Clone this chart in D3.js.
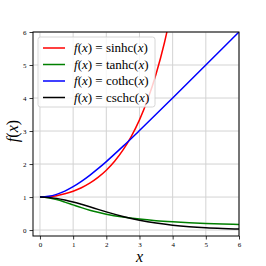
<!DOCTYPE html>
<html>
<head>
<script src="https://d3js.org/d3.v7.min.js"></script>
<style>
  body { margin: 0; background: #fff; }
  text { font-family: "Liberation Serif", "DejaVu Serif", serif; }
</style>
</head>
<body>
<svg width="266" height="266"></svg>
<script>
// values
var xs = [0, 0.25, 0.5, 0.75, 1, 1.25, 1.5, 1.75, 2, 2.5, 3, 3.5, 4, 4.5, 5, 5.5, 6];
var xsSinhc = [0, 0.25, 0.5, 0.75, 1, 1.25, 1.5, 1.75, 2, 2.25, 2.5, 2.75, 3, 3.25, 3.5, 3.75, 4];
var sinhc = [1, 1.01, 1.042, 1.097, 1.175, 1.282, 1.42, 1.595, 1.813, 2.085, 2.42, 2.833, 3.339, 3.962, 4.727, 5.666, 6.823];
var tanhc = [1, 0.98, 0.924, 0.847, 0.762, 0.679, 0.603, 0.538, 0.482, 0.395, 0.332, 0.285, 0.25, 0.222, 0.2, 0.182, 0.167];
var cothc = [1, 1.021, 1.082, 1.181, 1.313, 1.474, 1.657, 1.859, 2.075, 2.534, 3.015, 3.506, 4.003, 4.501, 5.0, 5.5, 6.0];
var cschc = [1, 0.99, 0.96, 0.912, 0.851, 0.78, 0.705, 0.627, 0.551, 0.413, 0.3, 0.212, 0.147, 0.1, 0.067, 0.045, 0.03];
var names = ["sinhc", "tanhc", "cothc", "cschc"];
var colors = ["#ff0000", "#008000", "#0000ff", "#000000"];
var xTicks = [0, 1, 2, 3, 4, 5, 6];
var yTicks = [0, 1, 2, 3, 4, 5, 6];

var svg = d3.select("svg"),
    margin = {top: 32, right: 27, bottom: 30, left: 33},
    width = 266 - margin.left - margin.right,
    height = 266 - margin.top - margin.bottom,
    g = svg.append("g").attr("transform", "translate(" + margin.left + "," + margin.top + ")");

var x = d3.scaleLinear().domain([-0.21, 6]).range([0, width]);
var y = d3.scaleLinear().domain([-0.18, 6]).range([height, 0]);

// grid
g.append("g").selectAll("line").data(xTicks).enter().append("line")
  .attr("x1", d => x(d)).attr("x2", d => x(d))
  .attr("y1", 0).attr("y2", height)
  .attr("stroke", "#d3d3d3").attr("stroke-width", 1);
g.append("g").selectAll("line").data(yTicks).enter().append("line")
  .attr("y1", d => y(d)).attr("y2", d => y(d))
  .attr("x1", 0).attr("x2", width)
  .attr("stroke", "#d3d3d3").attr("stroke-width", 1);

g.append("clipPath").attr("id", "clip")
  .append("rect").attr("width", width).attr("height", height);

var series = [
  {name: names[0], xv: xsSinhc, yv: sinhc},
  {name: names[1], xv: xs, yv: tanhc},
  {name: names[2], xv: xs, yv: cothc},
  {name: names[3], xv: xs, yv: cschc}
];

var line = d3.line()
  .x(d => x(d[0]))
  .y(d => y(d[1]))
  .curve(d3.curveMonotoneX);

series.forEach(function(s, i) {
  g.append("path")
    .attr("clip-path", "url(#clip)")
    .attr("fill", "none")
    .attr("stroke", colors[i])
    .attr("stroke-width", 1.5)
    .attr("d", line(d3.zip(s.xv, s.yv)));
});

// axes
var xAxis = g.append("g")
  .attr("transform", "translate(0," + height + ")")
  .call(d3.axisBottom(x).tickValues(xTicks).tickFormat(d3.format("d")).tickSize(3.5).tickPadding(3));
var yAxis = g.append("g")
  .call(d3.axisLeft(y).tickValues(yTicks).tickFormat(d3.format("d")).tickSize(3.5).tickPadding(3));
[xAxis, yAxis].forEach(function(a) {
  a.select(".domain").remove();
  a.selectAll("text").attr("font-family", "'DejaVu Serif', serif").attr("font-size", 7).attr("fill", "#000");
  a.selectAll("line").attr("stroke", "#000").attr("stroke-width", 0.8);
});

g.append("rect")
  .attr("width", width).attr("height", height)
  .attr("fill", "none").attr("stroke", "#000").attr("stroke-width", 1);

// legend
var lg = g.append("g").attr("transform", "translate(5,5)");
lg.append("rect")
  .attr("width", 117).attr("height", 70)
  .attr("rx", 2.5)
  .attr("fill", "#fff").attr("fill-opacity", 0.8)
  .attr("stroke", "#ccc").attr("stroke-width", 0.8);
names.forEach(function(n, i) {
  var row = lg.append("g").attr("transform", "translate(0," + (11 + i * 16.5) + ")");
  row.append("line")
    .attr("x1", 5).attr("x2", 27)
    .attr("stroke", colors[i]).attr("stroke-width", 1.5);
  var t = row.append("text").attr("x", 36).attr("y", 4).attr("font-size", 13).attr("fill", "#000");
  t.append("tspan").attr("font-style", "italic").text("f");
  t.append("tspan").text("(");
  t.append("tspan").attr("font-style", "italic").text("x");
  t.append("tspan").text(") = " + n + "(");
  t.append("tspan").attr("font-style", "italic").text("x");
  t.append("tspan").text(")");
});

// axis labels
svg.append("text")
  .attr("x", margin.left + x(3)).attr("y", 262)
  .attr("text-anchor", "middle").attr("font-size", 16).attr("font-style", "italic")
  .text("x");
var yl = svg.append("text")
  .attr("transform", "translate(18," + (margin.top + y(3)) + ") rotate(-90)")
  .attr("text-anchor", "middle").attr("font-size", 16);
yl.append("tspan").attr("font-style", "italic").text("f");
yl.append("tspan").text("(");
yl.append("tspan").attr("font-style", "italic").text("x");
yl.append("tspan").text(")");
</script>
</body>
</html>
